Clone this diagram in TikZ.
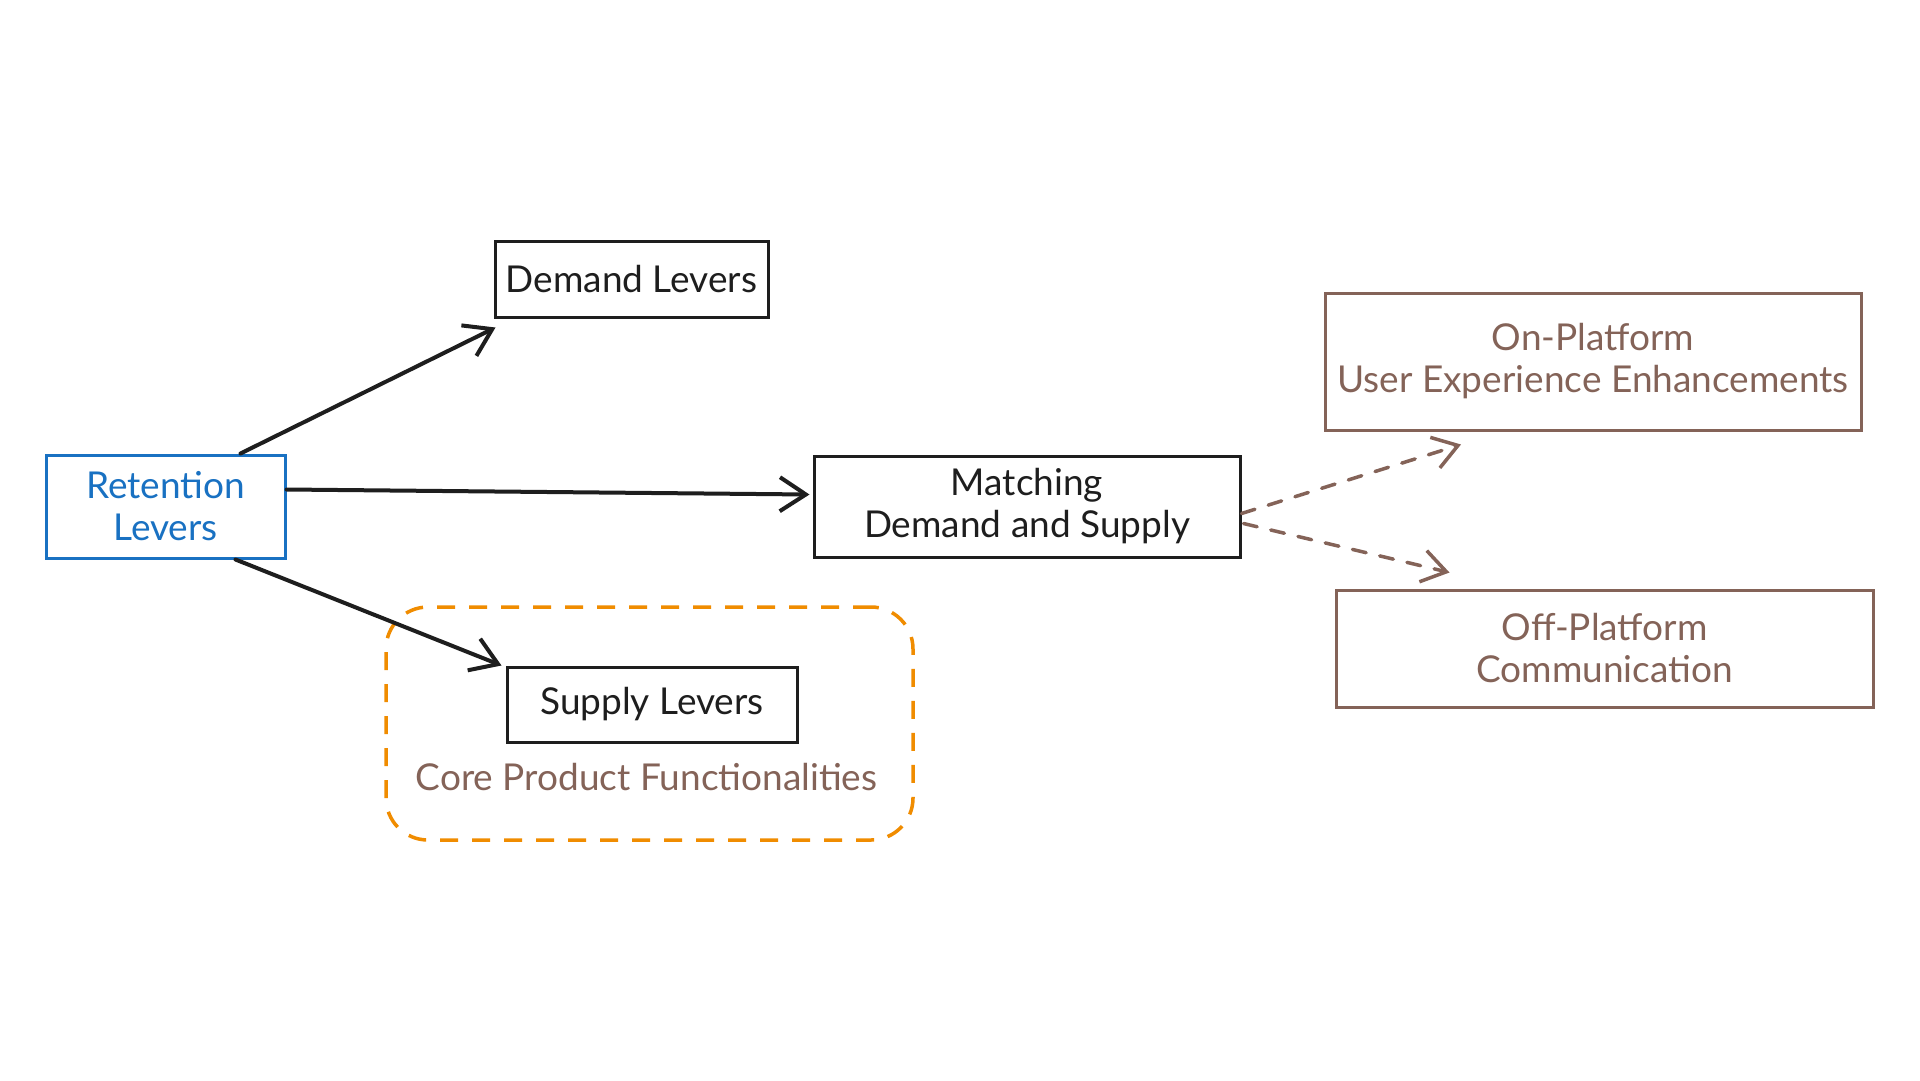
\documentclass[tikz,border=0pt]{standalone}
\usepackage{fontspec}
\setmainfont{Lato}
\usetikzlibrary{arrows.meta}
\definecolor{exblue}{HTML}{1971C2}
\definecolor{exbrown}{HTML}{846358}
\definecolor{exorange}{HTML}{F08C00}
\definecolor{exblack}{HTML}{1E1E1E}
\tikzset{
  box/.style={draw, rectangle, line width=3pt, align=center, inner sep=0pt,
    font=\fontsize{37}{42}\selectfont},
  blackbox/.style={box, draw=exblack, text=exblack},
  bluebox/.style={box, draw=exblue, text=exblue},
  brownbox/.style={box, draw=exbrown, text=exbrown},
  solidarrow/.style={draw=exblack, line width=4pt, line cap=round,
    -{Straight Barb[length=26pt,width=34pt,line width=4pt]}},
  dasharrow/.style={draw=exbrown, line width=3.5pt, line cap=round,
    dash pattern=on 14pt off 14pt,
    -{Straight Barb[length=24pt,width=32pt,line width=3.5pt]}},
  groupbox/.style={draw=exorange, line width=3.5pt, rounded corners=42pt,
    dash pattern=on 18pt off 14pt, rectangle, inner sep=0pt},
  grouplabel/.style={text=exbrown, font=\fontsize{37}{42}\selectfont, inner sep=0pt}
}
\begin{document}
\begin{tikzpicture}[x=1pt,y=-1pt]
\fill[white] (0,0) rectangle (1920,1080);
\useasboundingbox (0,0) rectangle (1920,1080);

% group
\node[groupbox, minimum width=527pt, minimum height=233pt] (grp) at (649.5,723.5) {};
\node[grouplabel] (core) at (646.5,777.5) {Core Product Functionalities};

% nodes
\node[bluebox, minimum width=239pt, minimum height=103pt] (ret) at (165.5,506.5) {Retention\\Levers};
\node[blackbox, minimum width=273pt, minimum height=76pt] (dem) at (631.5,279) {Demand Levers};
\node[blackbox, minimum width=426pt, minimum height=101pt] (mat) at (1027,506.5) {Matching\\Demand and Supply};
\node[blackbox, minimum width=290pt, minimum height=75pt] (sup) at (652,704.5) {Supply Levers};
\node[brownbox, minimum width=536pt, minimum height=137pt] (on) at (1593,361.5) {On-Platform\\User Experience Enhancements};
\node[brownbox, minimum width=537pt, minimum height=117pt] (off) at (1604.5,648.5) {Off-Platform\\Communication};

% connectors
\draw[solidarrow] ([xshift=75pt]ret.north) -- ([shift={(2pt,-9pt)}]dem.south west);
\draw[solidarrow] ([yshift=17pt]ret.east) -- ([shift={(-3pt,12pt)}]mat.west);
\draw[solidarrow] ([xshift=70pt]ret.south) -- ([xshift=-4pt]sup.north west);
\draw[dasharrow] ([shift={(0pt,-7pt)}]mat.east) -- ([shift={(-132pt,-13pt)}]on.south);
\draw[dasharrow] ([shift={(2pt,-17pt)}]mat.east) -- ([shift={(-155pt,16pt)}]off.north);
\end{tikzpicture}
\end{document}
